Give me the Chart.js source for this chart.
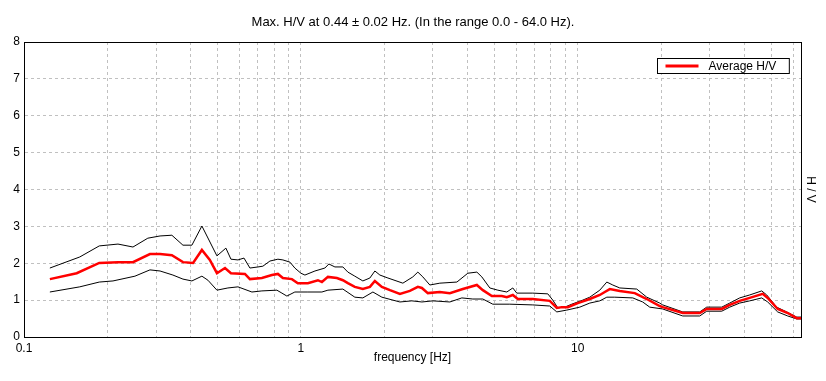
<!DOCTYPE html>
<html>
<head>
<meta charset="utf-8">
<script src="https://cdn.jsdelivr.net/npm/chart.js@4/dist/chart.umd.min.js"></script>
<style>
  html, body { margin: 0; padding: 0; background: #ffffff; }
  canvas { display: block; }
</style>
</head>
<body>
<canvas id="c" width="826" height="381"></canvas>
<script>
// ---- Data ----
const titleText = "Max. H/V at 0.44 \u00b1 0.02 Hz. (In the range 0.0 - 64.0 Hz).";
const xTitle = "frequency [Hz]";
const yTitle = "H / V";
const avgLabel = "Average H/V";

const gridTicks = [0.1,0.2,0.3,0.4,0.5,0.6,0.7,0.8,0.9,1,2,3,4,5,6,7,8,9,10,20,30,40,50,60];
const labeledTicks = [0.1, 1, 10];
const yTicks = [0,1,2,3,4,5,6,7,8];

const avgFreq = [0.124,0.155,0.187,0.2185,0.2475,0.285,0.31,0.342,0.375,0.408,0.439,0.469,0.4975,0.532,0.559,0.628,0.6545,0.723,0.786,0.826,0.861,0.928,0.975,1.06,1.152,1.191,1.252,1.349,1.418,1.478,1.566,1.674,1.775,1.85,1.961,2.097,2.278,2.475,2.645,2.735,2.874,3.175,3.451,3.845,4.32,4.541,4.893,5.317,5.543,5.826,6.073,6.879,7.925,8.4,8.755,9.204,10.0,11.05,12.01,12.52,13.05,14.18,16.06,17.75,19.77,20.27,23.94,27.57,29.22,33.11,35.38,38.44,41.78,46.55,48.52,52.72,57.31,61.75,64];
const avgHV = [1.57,1.73,2.01,2.03,2.03,2.25,2.25,2.22,2.03,2.01,2.36,2.09,1.73,1.87,1.73,1.71,1.57,1.60,1.68,1.71,1.60,1.57,1.46,1.46,1.54,1.49,1.63,1.60,1.54,1.46,1.36,1.30,1.36,1.52,1.36,1.27,1.17,1.25,1.36,1.33,1.19,1.22,1.19,1.30,1.41,1.27,1.11,1.11,1.08,1.14,1.03,1.03,0.98,0.79,0.81,0.81,0.92,1.03,1.14,1.22,1.30,1.25,1.19,1.03,0.84,0.81,0.65,0.65,0.76,0.76,0.87,0.98,1.06,1.17,1.06,0.76,0.65,0.51,0.51];

const upperFreq = [0.124,0.159,0.187,0.2185,0.2475,0.28,0.31,0.342,0.375,0.404,0.439,0.4975,0.536,0.559,0.5925,0.623,0.6545,0.70,0.729,0.773,0.826,0.861,0.913,0.951,1.0,1.034,1.124,1.221,1.262,1.327,1.418,1.478,1.566,1.674,1.775,1.85,1.929,2.062,2.335,2.537,2.645,2.757,2.922,3.175,3.659,4.008,4.32,4.503,4.812,5.143,5.543,5.826,6.022,6.879,7.794,8.124,8.47,8.977,9.513,10.42,11.05,12.01,12.73,13.38,14.18,16.33,17.75,19.77,20.27,23.94,27.57,29.22,33.11,35.38,38.44,41.78,46.17,48.12,52.28,56.83,61.75,64];
const upperHV = [1.87,2.17,2.47,2.52,2.44,2.68,2.74,2.76,2.49,2.49,3.01,2.20,2.41,2.11,2.09,2.14,1.87,1.90,1.92,2.06,2.11,2.09,2.03,1.87,1.73,1.68,1.79,1.87,1.98,1.90,1.90,1.76,1.65,1.52,1.60,1.79,1.68,1.60,1.46,1.63,1.76,1.63,1.41,1.46,1.49,1.73,1.76,1.63,1.33,1.27,1.22,1.33,1.19,1.19,1.17,1.00,0.79,0.81,0.89,1.00,1.08,1.27,1.49,1.41,1.33,1.30,1.08,0.92,0.87,0.68,0.68,0.81,0.81,0.92,1.06,1.14,1.25,1.14,0.81,0.68,0.54,0.54];

const lowerFreq = [0.124,0.159,0.187,0.2096,0.2516,0.285,0.31,0.345,0.375,0.404,0.439,0.4616,0.4975,0.545,0.5925,0.6655,0.723,0.819,0.854,0.890,0.951,1.06,1.191,1.252,1.418,1.566,1.674,1.82,1.961,2.278,2.516,2.735,2.996,3.451,3.813,4.178,4.541,4.933,5.682,6.879,7.925,8.4,9.127,10.17,11.05,12.01,12.73,13.6,15.8,17.16,18.19,20.27,23.94,27.57,29.22,33.11,35.38,38.44,41.78,46.17,48.52,52.72,57.31,61.75,64];
const lowerHV = [1.22,1.36,1.49,1.52,1.65,1.82,1.79,1.68,1.57,1.52,1.65,1.54,1.27,1.33,1.36,1.22,1.25,1.27,1.19,1.11,1.22,1.22,1.22,1.27,1.30,1.08,1.06,1.22,1.08,0.95,0.98,0.95,0.98,0.95,1.06,1.03,1.03,0.89,0.89,0.87,0.84,0.68,0.73,0.81,0.92,0.98,1.08,1.08,1.06,0.95,0.81,0.76,0.57,0.57,0.70,0.70,0.81,0.92,0.98,1.06,0.95,0.68,0.57,0.49,0.49];

// ---- Build chart ----
const toPts = (fs, vs) => fs.map((f, i) => ({ x: f, y: vs[i] }));
const FONT = "'Liberation Sans', Arial, sans-serif";

const framePlugin = {
  id: 'frame',
  afterDraw(chart) {
    const { ctx, chartArea: a } = chart;
    ctx.save();
    ctx.strokeStyle = '#000';
    ctx.lineWidth = 1;
    ctx.strokeRect(Math.round(a.left) + 0.5, Math.round(a.top) + 0.5,
                   Math.round(a.right - a.left), Math.round(a.bottom - a.top));
    // legend box
    const ds = chart.data.datasets[0];
    ctx.font = '12px ' + FONT;
    const tw = ctx.measureText(ds.label).width;
    const bw = 50 + tw + 14;
    const bx = Math.round(a.right - 12 - bw) + 0.5;
    const by = Math.round(a.top + 16) + 0.5;
    const bh = 15;
    ctx.fillStyle = '#fff';
    ctx.fillRect(bx, by, bw, bh);
    ctx.strokeStyle = '#000';
    ctx.strokeRect(bx, by, bw, bh);
    ctx.strokeStyle = ds.borderColor;
    ctx.lineWidth = 3;
    ctx.beginPath();
    ctx.moveTo(bx + 8, by + bh / 2);
    ctx.lineTo(bx + 41, by + bh / 2);
    ctx.stroke();
    ctx.fillStyle = '#000';
    ctx.textBaseline = 'middle';
    ctx.textAlign = 'left';
    ctx.fillText(ds.label, bx + 51, by + bh / 2 + 0.5);
    ctx.restore();
  }
};

new Chart(document.getElementById('c'), {
  type: 'line',
  data: {
    datasets: [
      { label: avgLabel, data: toPts(avgFreq, avgHV), borderColor: '#ff0000', borderWidth: 2.5, pointRadius: 0, tension: 0, fill: false },
      { label: 'upper', data: toPts(upperFreq, upperHV), borderColor: '#000000', borderWidth: 1, pointRadius: 0, tension: 0, fill: false },
      { label: 'lower', data: toPts(lowerFreq, lowerHV), borderColor: '#000000', borderWidth: 1, pointRadius: 0, tension: 0, fill: false }
    ]
  },
  options: {
    responsive: false,
    animation: false,
    layout: { padding: 0 },
    plugins: {
      legend: { display: false },
      tooltip: { enabled: false },
      title: {
        display: true,
        text: titleText,
        color: '#000',
        font: { family: FONT, size: 13, weight: 'normal', lineHeight: 1.2 },
        padding: { top: 14.2, bottom: 12.2 }
      }
    },
    scales: {
      x: {
        type: 'logarithmic',
        min: 0.1,
        max: 64,
        afterBuildTicks: s => { s.ticks = gridTicks.map(v => ({ value: v })); },
        afterFit: s => { s.height = 44; },
        ticks: {
          autoSkip: false, maxRotation: 0, minRotation: 0,
          color: '#000', padding: 4,
          font: { family: FONT, size: 12 },
          callback: v => labeledTicks.includes(v) ? String(v) : ''
        },
        grid: { color: '#c0c0c0', drawTicks: false, lineWidth: 1 },
        border: { display: true, color: '#000', width: 1, dash: [3, 3] },
        title: { display: true, text: xTitle, color: '#000', font: { family: FONT, size: 12 }, padding: { top: 0, bottom: 15.8 } }
      },
      y: {
        type: 'linear',
        position: 'left',
        min: 0, max: 8,
        afterBuildTicks: s => { s.ticks = yTicks.map(v => ({ value: v })); },
        afterFit: s => { s.width = 24; },
        ticks: { color: '#000', padding: 4, font: { family: FONT, size: 12 } },
        grid: { color: '#c0c0c0', drawTicks: false, lineWidth: 1 },
        border: { display: true, color: '#000', width: 1, dash: [3, 3] }
      },
      y2: {
        type: 'linear',
        position: 'right',
        min: 0, max: 8,
        afterFit: s => { s.width = 25; },
        ticks: { display: false },
        grid: { display: false, drawTicks: false },
        border: { display: false },
        title: { display: true, text: yTitle, color: '#000', font: { family: FONT, size: 12 }, padding: { top: 8, bottom: 0 } }
      }
    }
  },
  plugins: [framePlugin]
});
</script>
</body>
</html>
